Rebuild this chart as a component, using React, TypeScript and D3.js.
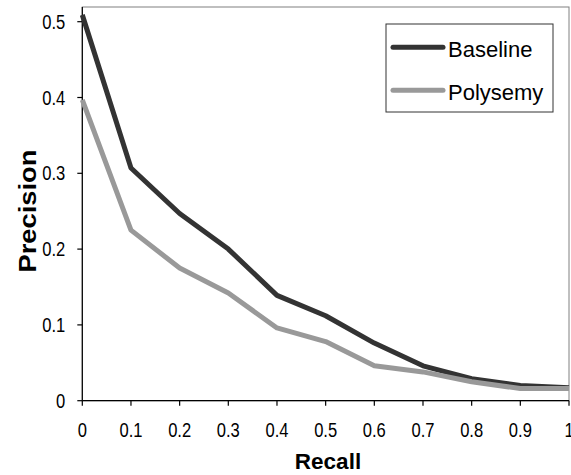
import React from "react";
import * as d3 from "d3";

const recall = [0, 0.1, 0.2, 0.3, 0.4, 0.5, 0.6, 0.7, 0.8, 0.9, 1];
const baseline = [0.509, 0.307, 0.247, 0.2, 0.139, 0.112, 0.076, 0.046, 0.029, 0.02, 0.017];
const polysemy = [0.397, 0.225, 0.175, 0.142, 0.096, 0.078, 0.046, 0.038, 0.025, 0.016, 0.016];
const xTicks = [0, 0.1, 0.2, 0.3, 0.4, 0.5, 0.6, 0.7, 0.8, 0.9, 1];
const yTicks = [0, 0.1, 0.2, 0.3, 0.4, 0.5];
const seriesNames = ["Baseline", "Polysemy"];
const seriesColors = ["#333333", "#999999"];

export default function App() {
  const W = 571, H = 475;
  const left = 82.3, right = 569, top = 7, bottom = 400.7;
  const x = d3.scaleLinear().domain([0, 1]).range([left, right]);
  const y = d3.scaleLinear().domain([0, 0.52]).range([bottom, bottom - 0.52 * 758]);
  const line = d3
    .line<[number, number]>()
    .x((d) => x(d[0]))
    .y((d) => y(d[1]));
  const series = [baseline, polysemy];
  const font = "Liberation Sans, Arial, sans-serif";
  return (
    <svg
      width={W}
      height={H}
      style={{ position: "absolute", left: 0, top: 0, background: "#fff" }}
      fontFamily={font}
    >
      <rect x={0} y={0} width={W} height={H} fill="#fff" />
      <rect x={left} y={top} width={right - left} height={bottom - top} fill="none" stroke="#808080" strokeWidth={1} />
      <line x1={left} x2={left} y1={top} y2={bottom} stroke="#000" strokeWidth={1.2} />
      <line x1={left} x2={right} y1={bottom} y2={bottom} stroke="#000" strokeWidth={1.2} />
      {yTicks.map((t) => (
        <g key={"y" + t}>
          <line x1={left - 5} x2={left} y1={y(t)} y2={y(t)} stroke="#000" strokeWidth={1.2} />
          <text
            transform={`translate(${left - 17},${y(t) + 7}) scale(0.85,1)`}
            textAnchor="end"
            fontSize={19.5}
            fill="#000"
          >
            {String(t)}
          </text>
        </g>
      ))}
      {xTicks.map((t) => (
        <g key={"x" + t}>
          <line x1={x(t)} x2={x(t)} y1={bottom} y2={bottom + 5} stroke="#000" strokeWidth={1.2} />
          <text
            transform={`translate(${x(t)},${437.3}) scale(0.85,1)`}
            textAnchor="middle"
            fontSize={19.5}
            fill="#000"
          >
            {String(t)}
          </text>
        </g>
      ))}
      {series.map((s, i) => (
        <path
          key={seriesNames[i]}
          d={line(recall.map((r, j) => [r, s[j]] as [number, number])) || ""}
          fill="none"
          stroke={seriesColors[i]}
          strokeWidth={5}
          strokeLinejoin="round"
        />
      ))}
      <text
        transform={`translate(36,211) rotate(-90)`}
        textAnchor="middle"
        fontSize={24}
        fontWeight="bold"
        textLength={123}
        lengthAdjust="spacingAndGlyphs"
      >
        Precision
      </text>
      <text x={328} y={469.3} textAnchor="middle" fontSize={22.5} fontWeight="bold">
        Recall
      </text>
      <rect x={386} y={24} width={167} height={88} fill="#fff" stroke="#333" strokeWidth={1} />
      {seriesNames.map((n, i) => (
        <g key={"leg" + n}>
          <line
            x1={393}
            x2={443}
            y1={47.3 + i * 43}
            y2={47.3 + i * 43}
            stroke={seriesColors[i]}
            strokeWidth={5}
            strokeLinecap="round"
          />
          <text x={448} y={57.3 + i * 43} fontSize={22} fill="#000">
            {n}
          </text>
        </g>
      ))}
    </svg>
  );
}
